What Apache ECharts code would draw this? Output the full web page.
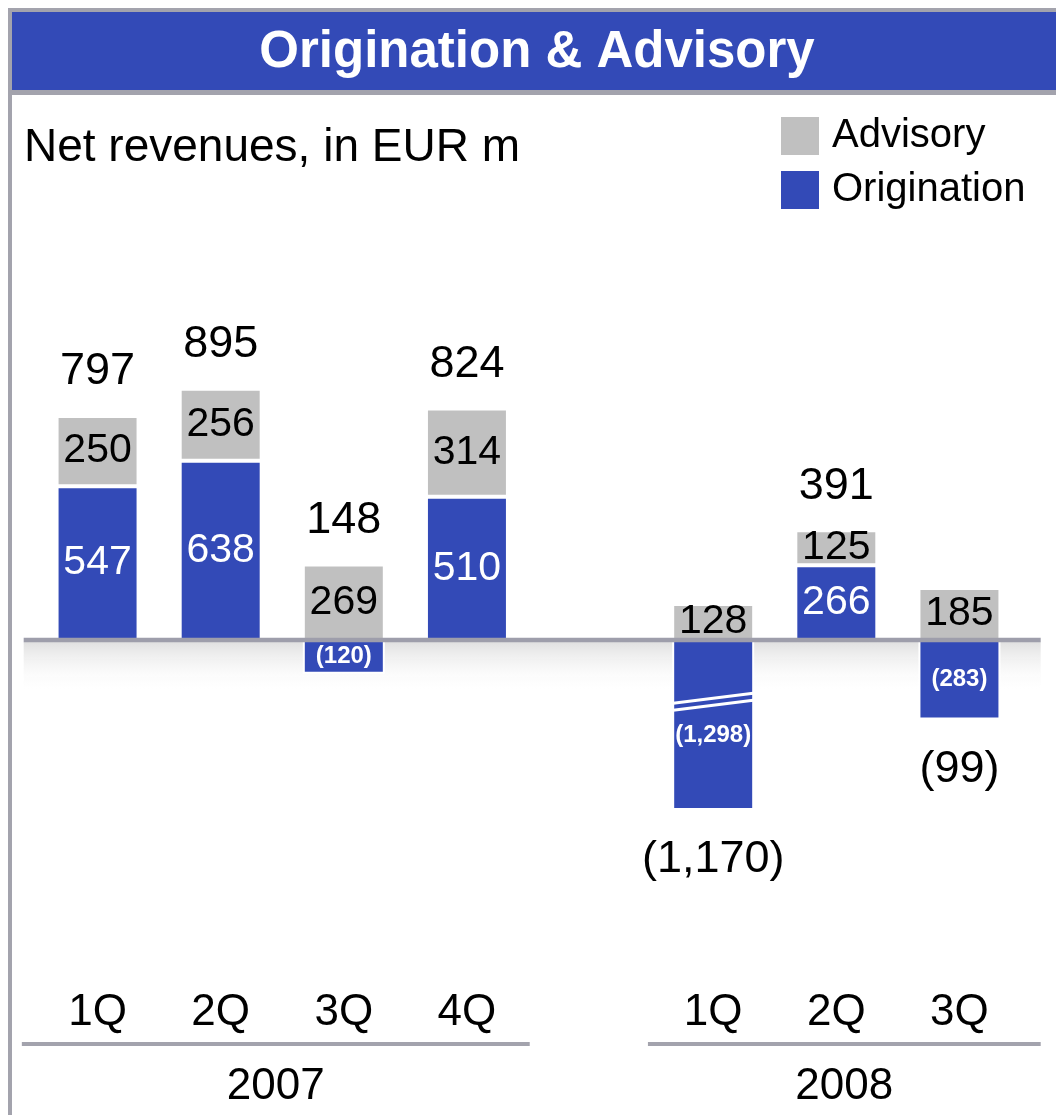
<!DOCTYPE html>
<html><head><meta charset="utf-8">
<script src="https://cdn.jsdelivr.net/npm/echarts@6/dist/echarts.min.js"></script>
<style>html,body{margin:0;padding:0;background:#fff}#c{width:1056px;height:1115px}</style>
</head><body><div id="c"></div>
<script>
// ---- data ----
const quarters = ['1Q', '2Q', '3Q', '4Q', '', '1Q', '2Q', '3Q'];
const yearLabels = ['2007', '2008'];
const yearGroups = [[0, 3], [5, 7]];
const origination = [547, 638, -120, 510, null, -1298, 266, -283];
const advisory = [250, 256, 269, 314, null, 128, 125, 185];
const totals = [797, 895, 148, 824, null, -1170, 391, -99];
const BREAK_FLOOR = -605;   // broken axis: bars are cut at this value
const BREAK_MARK_AT = -220; // where the break symbol is drawn

const BLUE = '#334ab7', GREY = '#c0c0c0', FRAME = '#a3a3ad';
const FONT = '"Liberation Sans", Arial, sans-serif';
const GROUP_PAD = [[0.615, 0.51], [0.53, 0.66]]; // group underline extents, in bands

function fmt(v) {
  return v < 0 ? '(' + Math.abs(v).toLocaleString('en-US') + ')' : v.toLocaleString('en-US');
}

const chart = echarts.init(document.getElementById('c'), null, {renderer: 'canvas'});

const origData = origination.map(v => {
  if (v == null) return null;
  if (v < 0) {
    return {
      value: Math.max(v, BREAK_FLOOR),
      label: {color: '#fff', fontSize: 24, fontWeight: 'bold', offset: v < BREAK_FLOOR ? [0, 10] : [0, 0]}
    };
  }
  return {value: v};
});

const GRID_LEFT = 36, GRID_RIGHT = 35, GRID_TOP = 359, GRID_BOTTOM = 194;

chart.setOption({
  animation: false,
  textStyle: {fontFamily: FONT},
  legend: {
    data: ['Advisory', 'Origination'],
    orient: 'vertical',
    left: 776, top: 111,
    itemWidth: 38, itemHeight: 38, itemGap: 14,
    icon: 'rect',
    itemStyle: {borderWidth: 0},
    textStyle: {fontSize: 40, color: '#000', fontFamily: FONT, padding: [0, 0, 0, 8], lineHeight: 40}
  },
  grid: {left: GRID_LEFT, right: GRID_RIGHT, top: GRID_TOP, bottom: GRID_BOTTOM, containLabel: false},
  xAxis: {
    type: 'category',
    data: quarters,
    axisLine: {show: false, onZero: false},
    axisTick: {show: false},
    axisLabel: {fontSize: 44, color: '#000', margin: 70, lineHeight: 44, fontFamily: FONT, interval: 0},
    splitLine: {show: false}
  },
  yAxis: {
    type: 'value', min: -1000, max: 1000,
    show: false, splitLine: {show: false}
  },
  series: [
    {
      name: 'Origination', type: 'bar', stack: 'rev', stackStrategy: 'samesign',
      barWidth: 82, data: origData,
      itemStyle: {color: BLUE, borderColor: '#fff', borderWidth: 2},
      label: {
        show: true, position: 'inside', color: '#fff', fontSize: 41, fontFamily: FONT,
        formatter: p => fmt(origination[p.dataIndex])
      },
      z: 3
    },
    {
      name: 'Advisory', type: 'bar', stack: 'rev', stackStrategy: 'samesign',
      barWidth: 82, data: advisory,
      itemStyle: {color: GREY, borderColor: '#fff', borderWidth: 2},
      label: {
        show: true, position: 'inside', color: '#000', fontSize: 41, fontFamily: FONT,
        formatter: p => fmt(advisory[p.dataIndex])
      },
      z: 3
    }
  ]
});

// ---- decorations computed through the chart's own scales ----
const px = (i, v) => chart.convertToPixel({gridIndex: 0}, [i, v]);
const band = px(1, 0)[0] - px(0, 0)[0];
const zeroY = px(0, 0)[1];
const lineLeft = px(0, 0)[0] - 0.60 * band;
const lineRight = px(7, 0)[0] + 0.66 * band;

const g = [];
// frame + header
g.push({type: 'rect', shape: {x: 8, y: 8, width: 1048, height: 4}, style: {fill: FRAME}, z: 10});
g.push({type: 'rect', shape: {x: 8, y: 8, width: 4, height: 1107}, style: {fill: FRAME}, z: 10});
g.push({type: 'rect', shape: {x: 12, y: 12, width: 1044, height: 78}, style: {fill: BLUE}, z: 10});
g.push({type: 'rect', shape: {x: 12, y: 90, width: 1044, height: 5}, style: {fill: FRAME}, z: 10});
g.push({type: 'text', x: 537, y: 53, z: 11,
  style: {text: 'Origination & Advisory', fill: '#fff', font: 'bold 51px ' + FONT, textAlign: 'center', textVerticalAlign: 'middle'}});
g.push({type: 'text', x: 24, y: 148, z: 11,
  style: {text: 'Net revenues, in EUR m', fill: '#000', font: '46px ' + FONT, textAlign: 'left', textVerticalAlign: 'middle'}});

// shadow under the zero line
g.push({type: 'rect', shape: {x: lineLeft, y: zeroY + 2, width: lineRight - lineLeft, height: 52}, z: 0,
  style: {fill: new echarts.graphic.LinearGradient(0, 0, 0, 1, [
    {offset: 0, color: 'rgba(205,205,205,0.6)'}, {offset: 1, color: 'rgba(255,255,255,0)'}])}});
// zero line
g.push({type: 'line', shape: {x1: lineLeft, y1: zeroY, x2: lineRight, y2: zeroY}, z: 50,
  style: {stroke: '#9e9eab', lineWidth: 4.5}});

// totals above (positive) or below (negative) each stacked bar
totals.forEach((t, i) => {
  if (t == null) return;
  const o = origination[i], a = advisory[i];
  let y;
  if (t >= 0) y = px(i, Math.max(o, 0) + Math.max(a, 0))[1] - 44;
  else y = px(i, Math.max(Math.min(o, 0) + Math.min(a, 0), BREAK_FLOOR))[1] + 50;
  g.push({type: 'text', x: px(i, 0)[0], y: y, z: 60,
    style: {text: fmt(t), fill: '#000', font: '45px ' + FONT, textAlign: 'center', textVerticalAlign: 'middle'}});
});

// break mark on cut bars
origination.forEach((v, i) => {
  if (v != null && v < BREAK_FLOOR) {
    const c = px(i, BREAK_MARK_AT);
    const half = 40;
    [-3.5, 3.5].forEach(dy => {
      g.push({type: 'line', z: 50,
        shape: {x1: c[0] - half, y1: c[1] + 5 + dy, x2: c[0] + half, y2: c[1] - 5 + dy},
        style: {stroke: '#fff', lineWidth: 3}});
    });
  }
});

// year groups
yearGroups.forEach((grp, k) => {
  const a = px(grp[0], 0)[0], b = px(grp[1], 0)[0];
  const l = a - GROUP_PAD[k][0] * band, r = b + GROUP_PAD[k][1] * band;
  const lineY = px(0, -1000)[1] + 123;
  g.push({type: 'line', shape: {x1: l, y1: lineY, x2: r, y2: lineY}, style: {stroke: FRAME, lineWidth: 4}, z: 10});
  g.push({type: 'text', x: (l + r) / 2, y: lineY + 43, z: 11,
    style: {text: yearLabels[k], fill: '#000', font: '44px ' + FONT, textAlign: 'center', textVerticalAlign: 'middle'}});
});

chart.setOption({graphic: g});
</script></body></html>
